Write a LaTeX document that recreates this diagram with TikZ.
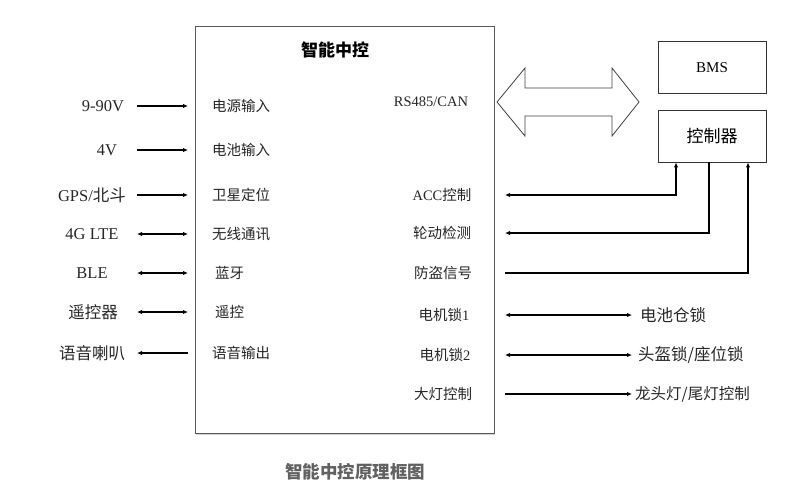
\documentclass[tikz,border=0pt]{standalone}
\usepackage{fontspec}
\setmainfont{Liberation Serif}
\newfontfamily\cjk{Noto Sans CJK SC}
\usetikzlibrary{arrows.meta,shadows}
\definecolor{boxgray}{rgb}{0.35,0.35,0.35}
\definecolor{capgray}{rgb}{0.38,0.38,0.38}

\begin{document}
\begin{tikzpicture}[x=1pt, y=-1pt,
  lbl/.style={inner sep=0pt, text=black!85, font=\cjk\fontsize{14.5}{14.5}\selectfont},
  outer/.style={inner sep=0pt, text=black!85, font=\fontsize{16.5}{16.5}\selectfont},
  sig/.style={line width=1.1pt, -{Latex[length=5pt,width=4.5pt]}},
  bisig/.style={line width=1.1pt, {Latex[length=5pt,width=4.5pt]}-{Latex[length=5pt,width=4.5pt]}},
  unit/.style={draw=black!80, line width=0.9pt, minimum width=108pt, minimum height=52pt, inner sep=0pt}]
\useasboundingbox (0,0) rectangle (800,499);

% main box
\node[draw=boxgray, line width=1pt, fill=white, minimum width=299pt, minimum height=407pt,
  drop shadow={shadow xshift=1pt, shadow yshift=-1.5pt, opacity=0.35}] (zk) at (344.5,229.5) {};
\node[inner sep=0pt, font=\cjk\bfseries\fontsize{17}{17}\selectfont] (title) at (335,50) {智能中控};

% BMS and controller
\node[unit] (bms) at (712,67.5) {\fontsize{15}{15}\selectfont BMS};
\node[unit] (kzq) at (712,136) {\cjk\fontsize{17}{17}\selectfont 控制器};

% bus arrow
\draw[line width=0.8pt, draw=black!75, fill=white] (497,102) -- (525,68) -- (525,88) -- (612,88)
  -- (612,68) -- (639,102) -- (612,136) -- (612,116) -- (525,116) -- (525,136) -- cycle;

% left column
\coordinate (la) at (137,0);
\coordinate (lb) at (188,0);
\node[outer] (v90) at (103,106) {9-90V};
\node[outer] (v4) at (107,150) {4V};
\node[outer] (gps) at (92,195) {GPS/{\cjk 北斗}};
\node[outer] (lte) at (92,234) {4G LTE};
\node[outer] (ble) at (92,273) {BLE};
\node[outer, font=\cjk\fontsize{16.5}{16.5}\selectfont] (rc) at (93,312) {遥控器};
\node[outer, font=\cjk\fontsize{16.5}{16.5}\selectfont] (spk) at (92,353) {语音喇叭};

\node[lbl, anchor=west] (pwr) at (212,106) {电源输入};
\node[lbl, anchor=west] (bat) at (212,150) {电池输入};
\node[lbl, anchor=west] (sat) at (212,195) {卫星定位};
\node[lbl, anchor=west] (wl) at (212,234) {无线通讯};
\node[lbl, anchor=west] (bt) at (215,273) {蓝牙};
\node[lbl, anchor=west] (yk) at (215,312) {遥控};
\node[lbl, anchor=west] (aud) at (212,353) {语音输出};

\draw[sig] (pwr -| la) -- (pwr -| lb);
\draw[sig] (bat -| la) -- (bat -| lb);
\draw[sig] (sat -| la) -- (sat -| lb);
\draw[bisig] (wl -| la) -- (wl -| lb);
\draw[bisig] (bt -| la) -- (bt -| lb);
\draw[bisig] (yk -| la) -- (yk -| lb);
\draw[sig] (aud -| lb) -- (aud -| la);

% right column
\coordinate (ra) at (505,0);
\coordinate (rb) at (632,0);
\node[lbl, font=\fontsize{14.5}{14.5}\selectfont] (bus) at (431,102) {RS485/CAN};
\node[lbl] (acc) at (442,195) {{\rmfamily ACC}控制};
\node[lbl] (whl) at (442,233) {轮动检测};
\node[lbl] (thf) at (443,273) {防盗信号};
\node[lbl] (m1) at (444,315) {电机锁{\rmfamily 1}};
\node[lbl] (m2) at (445,355) {电机锁{\rmfamily 2}};
\node[lbl] (lamp) at (443,394) {大灯控制};

\draw[bisig] (acc -| ra) -| ([xshift=-36pt]kzq.south);
\draw[sig] ([xshift=-3pt]kzq.south) |- (whl -| ra);
\draw[sig] (thf -| ra) -| ([xshift=36pt]kzq.south);

\node[outer, anchor=west, font=\cjk\fontsize{16.5}{16.5}\selectfont] (lk1) at (640,315) {电池仓锁};
\node[outer, anchor=west, font=\cjk\fontsize{16.5}{16.5}\selectfont] (lk2) at (638,355) {头盔锁/座位锁};
\node[outer, anchor=west, font=\cjk\fontsize{15.5}{15.5}\selectfont] (lt) at (635,394) {龙头灯/尾灯控制};

\draw[bisig] (m1 -| ra) -- (m1 -| rb);
\draw[bisig] (m2 -| ra) -- (m2 -| rb);
\draw[sig] (lamp -| ra) -- (lamp -| rb);

% caption
\node[inner sep=0pt, text=capgray, font=\cjk\bfseries\fontsize{17.5}{17.5}\selectfont] (cap) at (355,472) {智能中控原理框图};
\end{tikzpicture}
\end{document}
